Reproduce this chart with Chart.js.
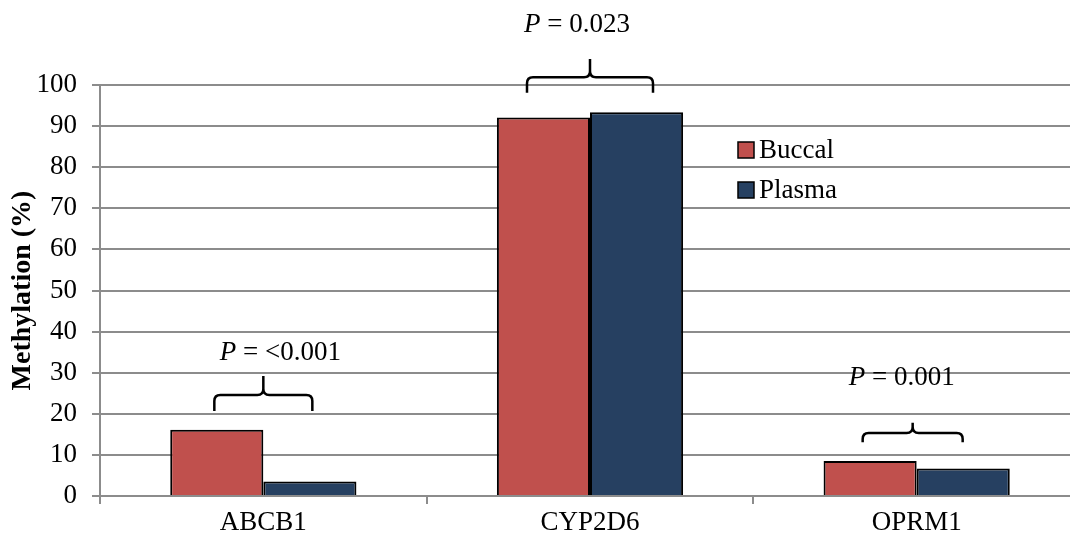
<!DOCTYPE html>
<html>
<head>
<meta charset="utf-8">
<script src="https://cdn.jsdelivr.net/npm/chart.js@4/dist/chart.umd.min.js"></script>
<style>
  html, body { margin: 0; padding: 0; background: #fff; overflow: hidden; }
  #wrap { width: 1080px; height: 543px; }
</style>
</head>
<body>
<div id="wrap"><canvas id="methyl-chart" width="1080" height="543"></canvas></div>
<script>
const genes = ['ABCB1', 'CYP2D6', 'OPRM1'];
const buccal = [16.1, 92.1, 8.5];
const plasma = [3.5, 93.4, 6.7];
const pValues = ['<0.001', '0.023', '0.001'];
const yTicks = [0, 10, 20, 30, 40, 50, 60, 70, 80, 90, 100];

const FONT = '"Liberation Serif", "Times New Roman", serif';
const GRID = '#8c8c8c';

// brace placement per gene, y in axis units, half width in px
const braces = [
    { half: 49, end: 20.7, mid: 24.6, peak: 29.2, label: 34.8, dx: 17 },
    { half: 63, end: 98.1, mid: 101.9, peak: 106.3, label: 114.6, dx: -13 },
    { half: 50, end: 13.1, mid: 15.3, peak: 17.8, label: 28.7, dx: -15, shift: -4 }
];

const bracePlugin = {
    id: 'braces',
    afterDatasetsDraw(chart) {
        const ctx = chart.ctx;
        const x = chart.scales.x, y = chart.scales.y;
        ctx.save();
        ctx.strokeStyle = '#000';
        ctx.lineWidth = 2.5;
        ctx.lineJoin = 'round';
        braces.forEach((b, i) => {
            const xc = x.getPixelForValue(i) + (b.shift || 0);
            const xl = xc - b.half, xr = xc + b.half;
            const ye = y.getPixelForValue(b.end);
            const ym = y.getPixelForValue(b.mid);
            const yp = y.getPixelForValue(b.peak);
            const r = Math.min(6, (ye - ym) * 0.7, (ym - yp) * 0.7);
            ctx.beginPath();
            ctx.moveTo(xl, ye);
            ctx.lineTo(xl, ym + r);
            ctx.quadraticCurveTo(xl, ym, xl + r, ym);
            ctx.lineTo(xc - r, ym);
            ctx.quadraticCurveTo(xc, ym, xc, ym - r);
            ctx.lineTo(xc, yp);
            ctx.moveTo(xc, ym - r);
            ctx.quadraticCurveTo(xc, ym, xc + r, ym);
            ctx.lineTo(xr - r, ym);
            ctx.quadraticCurveTo(xr, ym, xr, ym + r);
            ctx.lineTo(xr, ye);
            ctx.stroke();

            // label: italic P then the rest
            const ly = y.getPixelForValue(b.label);
            const rest = ' = ' + pValues[i];
            ctx.font = 'italic 27px ' + FONT;
            const wP = ctx.measureText('P').width;
            ctx.font = '27px ' + FONT;
            const wR = ctx.measureText(rest).width;
            let lx = x.getPixelForValue(i) + b.dx - (wP + wR) / 2;
            ctx.fillStyle = '#000';
            ctx.textBaseline = 'middle';
            ctx.textAlign = 'left';
            ctx.font = 'italic 27px ' + FONT;
            ctx.fillText('P', lx, ly);
            ctx.font = '27px ' + FONT;
            ctx.fillText(rest, lx + wP, ly);
        });
        ctx.restore();
    }
};

const legendPlugin = {
    id: 'boxLegend',
    afterDraw(chart) {
        const ctx = chart.ctx;
        const items = chart.data.datasets;
        ctx.save();
        ctx.font = '27px ' + FONT;
        ctx.textBaseline = 'middle';
        ctx.textAlign = 'left';
        items.forEach((ds, i) => {
            const cy = 150 + i * 40;
            ctx.fillStyle = ds.backgroundColor;
            ctx.fillRect(738, cy - 8, 16, 16);
            ctx.strokeStyle = '#000';
            ctx.lineWidth = 1.5;
            ctx.strokeRect(738, cy - 8, 16, 16);
            ctx.fillStyle = '#000';
            ctx.fillText(ds.label, 759, cy + 1);
        });
        ctx.restore();
    }
};

new Chart(document.getElementById('methyl-chart'), {
    type: 'bar',
    data: {
        labels: genes,
        datasets: [
            { label: 'Buccal', data: buccal, backgroundColor: '#C0504D', borderColor: '#000', borderWidth: 2 },
            { label: 'Plasma', data: plasma, backgroundColor: '#264061', borderColor: '#000', borderWidth: 2 }
        ]
    },
    options: {
        responsive: false,
        animation: false,
        layout: { padding: { top: 85, right: 0, left: 0, bottom: 0 } },
        datasets: { bar: { categoryPercentage: 0.57, barPercentage: 1.0 } },
        plugins: {
            legend: { display: false },
            tooltip: { enabled: false }
        },
        scales: {
            x: {
                offset: true,
                afterFit(scale) { scale.height = 47; },
                grid: { offset: true, drawOnChartArea: false, color: GRID, lineWidth: 2, tickLength: 8 },
                border: { color: GRID, width: 2 },
                ticks: { color: '#000', font: { family: FONT, size: 27 }, padding: 3 }
            },
            y: {
                min: 0,
                max: 100,
                afterFit(scale) { scale.width = 100; },
                afterBuildTicks(scale) { scale.ticks = yTicks.map(v => ({ value: v })); },
                grid: { color: GRID, lineWidth: 2, tickLength: 8 },
                border: { color: GRID, width: 2 },
                ticks: { color: '#000', font: { family: FONT, size: 27 }, padding: 15 },
                title: {
                    display: true,
                    text: 'Methylation (%)',
                    color: '#000',
                    font: { family: FONT, size: 28, weight: 'bold' },
                    padding: { top: 6, bottom: 0 }
                }
            }
        }
    },
    plugins: [bracePlugin, legendPlugin]
});
</script>
</body>
</html>
